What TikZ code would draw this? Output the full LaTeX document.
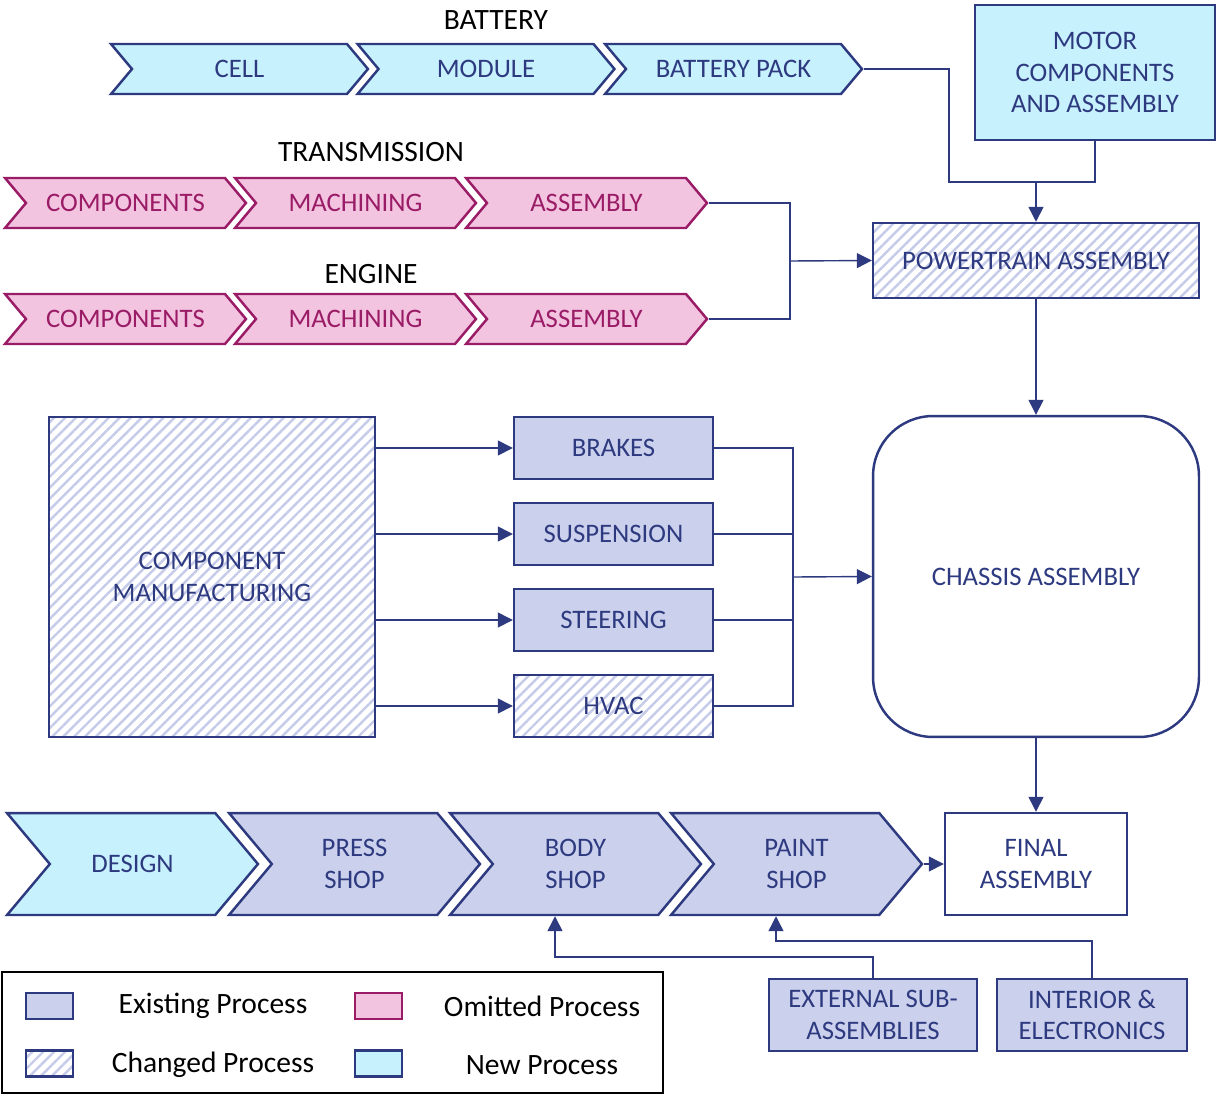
\documentclass[tikz,border=0pt]{standalone}
\usepackage{fontspec}
\setmainfont{Carlito}
\usetikzlibrary{arrows.meta,shapes.symbols,patterns.meta}
\definecolor{navy}{HTML}{2E3A7F}
\definecolor{lav}{HTML}{CBD0EC}
\definecolor{newblue}{HTML}{C6F1FD}
\definecolor{pinkfill}{HTML}{F2C4E0}
\definecolor{plum}{HTML}{9A1B66}
\definecolor{hatch}{HTML}{C6CBEA}
\newcommand{\boxfont}{\fontsize{15.2}{18}\selectfont}
\newcommand{\legfont}{\fontsize{16.8}{20}\selectfont}
\tikzset{
  proc/.style={draw=navy, line width=1.4pt, text=navy, font=\boxfont, align=center, inner sep=0pt},
  existing/.style={proc, fill=lav},
  newproc/.style={proc, fill=newblue},
  changed/.style={proc, pattern={Lines[angle=45,distance=4.4pt,line width=1.4pt]}, pattern color=hatch},
  omitted/.style={proc, draw=plum, fill=pinkfill, text=plum},
  chev/.style={signal, signal from=west, signal to=east, signal pointer angle=100},
  heading/.style={font=\legfont, text=black},
  legtext/.style={font=\legfont, text=black},
  link/.style={draw=navy, line width=0.8pt},
  arr/.style={link, -{Triangle[length=8.5pt,width=8.5pt]}},
}
\begin{document}
\begin{tikzpicture}[x=0.02cm,y=-0.02cm]
\useasboundingbox (0,0) rectangle (1219,1095);
% battery
\node[heading] (batt) at (496,20) {BATTERY};
\node[chev,newproc,minimum width=5.14cm,minimum height=1cm] (cell) at (239.5,69) {CELL};
\node[chev,newproc,minimum width=5.14cm,minimum height=1cm] (module) at (486,69) {MODULE};
\node[chev,newproc,minimum width=5.14cm,minimum height=1cm] (bpack) at (733.5,69) {BATTERY PACK};
\node[newproc,minimum width=4.8cm,minimum height=2.7cm] (motor) at (1095,72.5) {MOTOR\\COMPONENTS\\AND ASSEMBLY};
% transmission and engine
\node[heading] (trans) at (371,152) {TRANSMISSION};
\node[chev,omitted,minimum width=4.82cm,minimum height=1cm] (tcomp) at (125.5,203) {COMPONENTS};
\node[chev,omitted,minimum width=4.82cm,minimum height=1cm] (tmach) at (355.5,203) {MACHINING};
\node[chev,omitted,minimum width=4.82cm,minimum height=1cm] (tasm) at (586.5,203) {ASSEMBLY};
\node[heading] (eng) at (371,274) {ENGINE};
\node[chev,omitted,minimum width=4.82cm,minimum height=1cm] (ecomp) at (125.5,319) {COMPONENTS};
\node[chev,omitted,minimum width=4.82cm,minimum height=1cm] (emach) at (355.5,319) {MACHINING};
\node[chev,omitted,minimum width=4.82cm,minimum height=1cm] (easm) at (586.5,319) {ASSEMBLY};
\node[changed,minimum width=6.52cm,minimum height=1.5cm] (pt) at (1036,260.5) {POWERTRAIN ASSEMBLY};
% chassis
\node[changed,minimum width=6.52cm,minimum height=6.4cm] (cm) at (212,577) {COMPONENT\\MANUFACTURING};
\node[existing,minimum width=3.98cm,minimum height=1.24cm] (brakes) at (613.5,448) {BRAKES};
\node[existing,minimum width=3.98cm,minimum height=1.24cm] (susp) at (613.5,534) {SUSPENSION};
\node[existing,minimum width=3.98cm,minimum height=1.24cm] (steer) at (613.5,620) {STEERING};
\node[changed,minimum width=3.98cm,minimum height=1.24cm] (hvac) at (613.5,706) {HVAC};
\node[proc,fill=white,rounded corners=1.2cm,minimum width=6.52cm,minimum height=6.42cm] (chassis) at (1036,576.5) {CHASSIS ASSEMBLY};
% body line
\node[chev,newproc,minimum width=5.02cm,minimum height=2.04cm] (design) at (132.5,864) {DESIGN};
\node[chev,existing,minimum width=5.02cm,minimum height=2.04cm] (press) at (354.5,864) {PRESS\\SHOP};
\node[chev,existing,minimum width=5.02cm,minimum height=2.04cm] (body) at (575.5,864) {BODY\\SHOP};
\node[chev,existing,minimum width=5.02cm,minimum height=2.04cm] (paint) at (796.5,864) {PAINT\\SHOP};
\node[proc,fill=white,minimum width=3.64cm,minimum height=2.04cm] (final) at (1036,864) {FINAL\\ASSEMBLY};
\node[existing,minimum width=4.16cm,minimum height=1.44cm] (ext) at (873,1015) {EXTERNAL SUB-\\ASSEMBLIES};
\node[existing,minimum width=3.8cm,minimum height=1.44cm] (inter) at (1092,1015) {INTERIOR \&\\ELECTRONICS};
% connectors
\coordinate (pjoin) at (1036,182);
\draw[link] (bpack.east) -| (949,182) -- (pjoin);
\draw[link] (motor.south) |- (pjoin);
\draw[arr] (pjoin) -- (pt.north);
\coordinate (tjoin) at (790,261);
\draw[link] (tasm.east) -| (tjoin);
\draw[link] (easm.east) -| (tjoin);
\draw[arr] (tjoin) -- (pt.west);
\draw[arr] (pt.south) -- (chassis.north);
\draw[arr] (cm.east |- brakes) -- (brakes.west);
\draw[arr] (cm.east |- susp) -- (susp.west);
\draw[arr] (cm.east |- steer) -- (steer.west);
\draw[arr] (cm.east |- hvac) -- (hvac.west);
\coordinate (cjoin) at (793,577);
\draw[link] (brakes.east) -| (cjoin);
\draw[link] (susp.east) -| (cjoin);
\draw[link] (steer.east) -| (cjoin);
\draw[link] (hvac.east) -| (cjoin);
\draw[arr] (cjoin) -- (chassis.west);
\draw[arr] (chassis.south) -- (final.north);
\draw[arr] (paint.east) -- (final.west);
\coordinate (bjoin) at (555,957);
\draw[arr] (ext.north) |- (bjoin) -- (bjoin |- body.south);
\coordinate (ijoin) at (776,941);
\draw[arr] (inter.north) |- (ijoin) -- (ijoin |- paint.south);
% legend
\node[draw=black,line width=1.1pt,minimum width=13.22cm,minimum height=2.42cm] (legend) at (332.5,1032.5) {};
\node[existing,minimum width=0.94cm,minimum height=0.52cm] (kexist) at (49.5,1006) {};
\node[changed,minimum width=0.94cm,minimum height=0.52cm] (kchange) at (49.5,1063.5) {};
\node[omitted,minimum width=0.94cm,minimum height=0.52cm] (komit) at (378.5,1006) {};
\node[newproc,minimum width=0.94cm,minimum height=0.52cm] (knew) at (378.5,1063.5) {};
\node[legtext] (texist) at (213,1006) {Existing Process};
\node[legtext] (tchange) at (213,1065) {Changed Process};
\node[legtext] (tomit) at (542,1006) {Omitted Process};
\node[legtext] (tnew) at (542,1065) {New Process};
\end{tikzpicture}
\end{document}
